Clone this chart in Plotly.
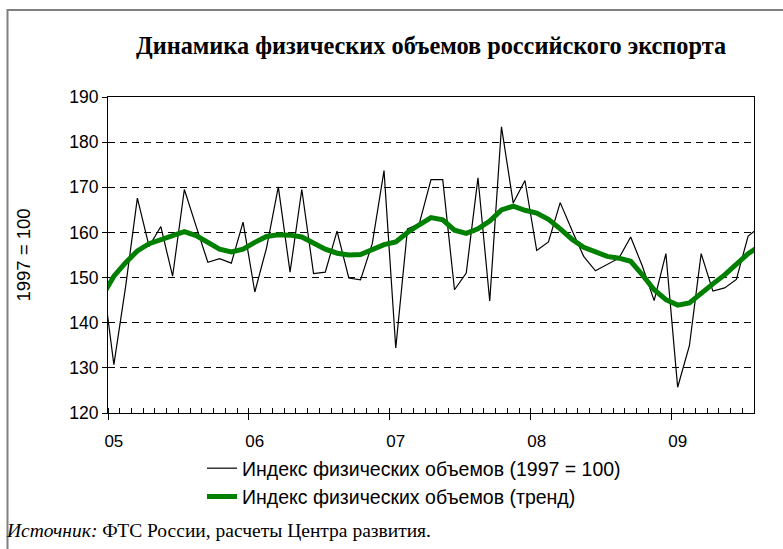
import plotly.graph_objects as go

# Monthly categories (Dec 2004 and Aug 2009 lie just outside the visible window)
months = ["2004-12",
          "2005-01", "2005-02", "2005-03", "2005-04", "2005-05", "2005-06",
          "2005-07", "2005-08", "2005-09", "2005-10", "2005-11", "2005-12",
          "2006-01", "2006-02", "2006-03", "2006-04", "2006-05", "2006-06",
          "2006-07", "2006-08", "2006-09", "2006-10", "2006-11", "2006-12",
          "2007-01", "2007-02", "2007-03", "2007-04", "2007-05", "2007-06",
          "2007-07", "2007-08", "2007-09", "2007-10", "2007-11", "2007-12",
          "2008-01", "2008-02", "2008-03", "2008-04", "2008-05", "2008-06",
          "2008-07", "2008-08", "2008-09", "2008-10", "2008-11", "2008-12",
          "2009-01", "2009-02", "2009-03", "2009-04", "2009-05", "2009-06",
          "2009-07", "2009-08"]

index_values = [151.0,
                130.7, 148.0, 167.6, 156.9, 161.3, 150.3, 169.5, 161.4, 153.4, 154.2, 153.2, 162.3,
                146.8, 156.6, 170.1, 151.2, 169.5, 150.9, 151.2, 160.3, 149.9, 149.5, 157.5, 173.7,
                134.4, 160.8, 161.9, 171.7, 171.7, 147.3, 151.0, 172.1, 144.8, 183.4, 166.5, 171.5,
                156.0, 157.9, 166.6, 160.5, 154.7, 151.5, 152.9, 154.3, 159.0, 152.5, 144.9, 155.3,
                125.7, 134.9, 155.3, 147.0, 147.7, 149.6, 159.2, 161.2]

trend_values = [145.8,
                150.3, 153.3, 155.9, 157.5, 158.4, 159.4, 160.2, 159.3, 157.7, 156.3, 155.7, 156.3,
                157.8, 159.1, 159.5, 159.4, 159.0, 157.6, 156.3, 155.4, 155.0, 155.1, 156.3, 157.3,
                157.9, 160.0, 161.7, 163.3, 162.8, 160.5, 159.8, 160.8, 162.5, 165.0, 165.8, 164.9,
                164.3, 162.9, 160.8, 158.5, 156.7, 155.6, 154.7, 154.3, 153.6, 150.6, 147.3, 145.1,
                143.9, 144.4, 146.6, 148.6, 150.6, 153.1, 155.3, 157.0]

year_labels = ["05", "06", "07", "08", "09"]
y_ticks = [120, 130, 140, 150, 160, 170, 180, 190]

series1_name = "Индекс физических объемов (1997 = 100)"
series2_name = "Индекс физических объемов (тренд)"
title_text = "<b>Динамика физических объемов российского экспорта</b>"
source_text = "<i>Источник:</i> ФТС России, расчеты Центра развития."

# positions derived from the category list
pos = list(range(len(months)))
jan_pos = [i for i, m in enumerate(months) if m.endswith("-01")]
year_bounds = [p - 0.5 for p in jan_pos]
first_vis = pos[1]
last_vis = pos[-2]
x_range = [first_vis - 0.5, last_vis + 0.5]

fig = go.Figure()
fig.add_trace(go.Scatter(x=pos, y=index_values, mode="lines", name=series1_name,
                         line=dict(color="black", width=1.2), xaxis="x", yaxis="y",
                         hoverinfo="skip"))
fig.add_trace(go.Scatter(x=pos, y=trend_values, mode="lines", name=series2_name,
                         line=dict(color="#008000", width=5), xaxis="x2", yaxis="y",
                         hoverinfo="skip"))

W, H = 783, 549
ml, mr, mt, mb = 108, 29, 97, 136
pw, ph = W - ml - mr, H - mt - mb

def px_x(px):
    return (px - ml) / pw

def px_y(py):
    return (H - mb - py) / ph

fig.update_layout(
    width=W, height=H,
    margin=dict(l=ml, r=mr, t=mt, b=mb),
    paper_bgcolor="white", plot_bgcolor="white",
    font=dict(family="Liberation Sans, Arial", size=17, color="black"),
    title=dict(text=title_text, x=0.5, xref="paper", xanchor="center",
               y=1 - 45 / H, yref="container", yanchor="middle",
               font=dict(family="Liberation Serif, Times New Roman", size=24.3, color="black")),
    xaxis=dict(range=x_range, tickmode="array", tickvals=year_bounds, showticklabels=False,
               ticks="outside", ticklen=6, tickcolor="black", tickwidth=1,
               minor=dict(tick0=0.5, dtick=1, ticks="inside", ticklen=5,
                          tickcolor="black", tickwidth=1, showgrid=False),
               showgrid=False, zeroline=False, showline=True, linecolor="black",
               linewidth=1, mirror=True),
    xaxis2=dict(overlaying="x", matches="x", anchor="y", side="bottom",
                tickmode="array", tickvals=jan_pos, ticktext=year_labels,
                ticks="", showgrid=False, zeroline=False, showline=False,
                ticklabelstandoff=16,
                tickfont=dict(family="Liberation Sans, Arial", size=17)),
    yaxis=dict(range=[y_ticks[0], y_ticks[-1]], tickmode="array", tickvals=y_ticks,
               ticks="outside", ticklen=5, tickcolor="black",
               showgrid=True, gridcolor="black", gridwidth=1, griddash="7px,5px",
               zeroline=False, showline=True, linecolor="black", linewidth=1, mirror=True,
               title=dict(text="1997 = 100", standoff=33,
                          font=dict(family="Liberation Sans, Arial", size=18.5)),
               tickfont=dict(family="Liberation Sans, Arial", size=17.5)),
    legend=dict(x=px_x(202), y=px_y(449), xanchor="left", yanchor="top",
                orientation="v", bgcolor="rgba(0,0,0,0)", tracegroupgap=0,
                font=dict(family="Liberation Sans, Arial", size=19.5)),
    showlegend=True,
    shapes=[dict(type="rect", xref="paper", yref="paper",
                 x0=px_x(7.5), x1=px_x(W + 20), y0=px_y(H + 20), y1=px_y(10),
                 line=dict(color="#808080", width=2), fillcolor="rgba(0,0,0,0)",
                 layer="below")],
    annotations=[dict(text=source_text, xref="paper", yref="paper",
                      x=px_x(4), y=px_y(530), xanchor="left", yanchor="middle",
                      showarrow=False,
                      font=dict(family="Liberation Serif, Times New Roman", size=19.5,
                                color="black"))],
)

fig.write_html("out.html", config={"displayModeBar": False},
               post_script="document.body.style.margin='0px';document.body.style.overflow='hidden';")
